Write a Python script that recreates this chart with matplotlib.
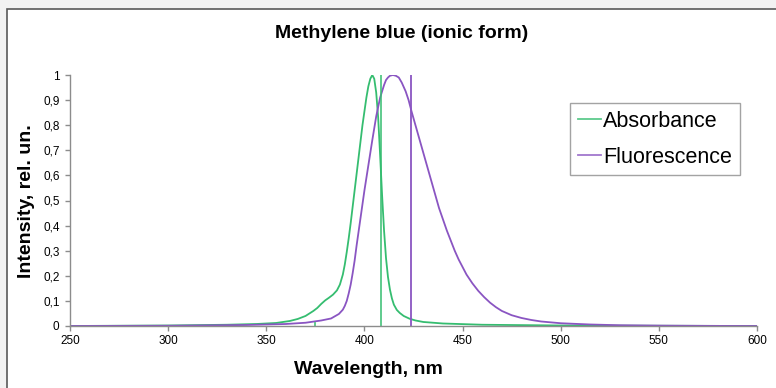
import matplotlib
matplotlib.use("Agg")
import matplotlib.pyplot as plt
from matplotlib.patches import Rectangle
from matplotlib.ticker import FixedLocator

plt.rcParams['font.family'] = ['Liberation Sans', 'DejaVu Sans']

# ---- data ----
abs_wl = [250, 300, 330, 345, 355, 362, 366, 370, 372, 374, 376, 378, 380, 382, 384, 386,
          387.5, 389, 390, 391, 392, 393, 394, 395, 397, 399, 401, 402, 403, 404, 405, 406,
          407, 408, 409, 410, 411, 412, 413, 414, 415, 416.5, 418, 420, 423, 426, 430, 440,
          460, 500, 600]
abs_val = [0.0, 0.002, 0.005, 0.008, 0.012, 0.02, 0.028, 0.04, 0.05, 0.06, 0.072, 0.088,
           0.102, 0.113, 0.125, 0.142, 0.165, 0.205, 0.245, 0.295, 0.35, 0.41, 0.475, 0.54,
           0.67, 0.80, 0.91, 0.955, 0.985, 1.0, 0.985, 0.93, 0.83, 0.68, 0.52, 0.38, 0.27,
           0.195, 0.145, 0.11, 0.085, 0.064, 0.052, 0.04, 0.029, 0.022, 0.016, 0.01, 0.005,
           0.002, 0.0]

fl_wl = [250, 300, 340, 360, 370, 378, 383, 387, 389, 390, 391, 392, 393, 394, 395, 396,
         398, 400, 402, 404, 406, 408, 410, 411, 412, 413, 414.5, 416, 417.5, 419, 421,
         422.5, 424, 426, 428, 430, 432, 434, 436, 438, 440, 442, 444, 446, 448, 450, 452,
         455, 458, 461, 464, 467, 470, 475, 480, 485, 490, 500, 515, 530, 550, 575, 600]
fl_val = [0.0, 0.001, 0.004, 0.008, 0.013, 0.022, 0.03, 0.048, 0.065, 0.08, 0.10, 0.13,
          0.165, 0.21, 0.26, 0.32, 0.43, 0.54, 0.64, 0.74, 0.835, 0.91, 0.96, 0.98, 0.99,
          0.997, 1.0, 0.997, 0.99, 0.97, 0.935, 0.9, 0.855, 0.80, 0.745, 0.69, 0.635, 0.58,
          0.525, 0.47, 0.425, 0.38, 0.34, 0.30, 0.265, 0.235, 0.205, 0.17, 0.14, 0.115,
          0.093, 0.075, 0.06, 0.043, 0.032, 0.024, 0.018, 0.011, 0.006, 0.003, 0.0015,
          0.0005, 0.0]

# vertical marker lines (wavelength, height)
abs_marks_wl = [375, 408.4]
abs_marks_h = [0.012, 1.0]
fl_marks_wl = [423.5]
fl_marks_h = [1.0]

x_ticks = [250, 300, 350, 400, 450, 500, 550, 600]
y_ticks = [0, 0.1, 0.2, 0.3, 0.4, 0.5, 0.6, 0.7, 0.8, 0.9, 1]
y_tick_labels = ['0', '0,1', '0,2', '0,3', '0,4', '0,5', '0,6', '0,7', '0,8', '0,9', '1']

green = '#35bd70'
purple = '#8a55c2'

fig = plt.figure(figsize=(7.76, 3.88), dpi=100, facecolor='#f2f2f2')
W, H = 776, 388
fig.patches.append(Rectangle((7 / W, -0.05), 1.0, (H - 9) / H + 0.05,
                             transform=fig.transFigure, facecolor='white',
                             edgecolor='#595959', linewidth=1.2, zorder=-10))

ax = fig.add_axes([70 / W, (H - 326) / H, (757 - 70) / W, (326 - 75) / H])
ax.set_zorder(5)
ax.set_facecolor('none')

ax.plot(abs_wl, abs_val, color=green, lw=1.3, label='Absorbance', solid_joinstyle='round')
ax.plot(fl_wl, fl_val, color=purple, lw=1.3, label='Fluorescence', solid_joinstyle='round')
for xw, hh in zip(abs_marks_wl, abs_marks_h):
    ax.plot([xw, xw], [0, hh], color=green, lw=1.3, alpha=0.85)
for xw, hh in zip(fl_marks_wl, fl_marks_h):
    ax.plot([xw, xw], [0, hh], color=purple, lw=1.3)

ax.set_xlim(250, 600)
ax.set_ylim(0, 1)
ax.xaxis.set_major_locator(FixedLocator(x_ticks))
ax.set_xticklabels([str(t) for t in x_ticks])
ax.yaxis.set_major_locator(FixedLocator(y_ticks))
ax.set_yticklabels(y_tick_labels)
for s in ['top', 'right']:
    ax.spines[s].set_visible(False)
for s in ['left', 'bottom']:
    ax.spines[s].set_color('#8c8c8c')
    ax.spines[s].set_linewidth(1.0)
ax.tick_params(axis='both', colors='#8c8c8c', labelcolor='#000000', labelsize=8.5,
               length=3.5, width=1.0, direction='out')
ax.tick_params(axis='x', pad=3)
ax.tick_params(axis='y', pad=4)

leg = ax.legend(loc='upper left', bbox_to_anchor=(570 / W, (H - 103) / H),
                bbox_transform=fig.transFigure, fontsize=15.5, frameon=True,
                fancybox=False, handlelength=1.1, handletextpad=0.1,
                labelspacing=0.7, borderpad=0.35, borderaxespad=0)
leg.get_frame().set_edgecolor('#8c8c8c')
leg.get_frame().set_linewidth(1.0)
for line in leg.get_lines():
    line.set_linewidth(1.3)
    line.set_alpha(0.8)

fig.text(402 / W, (H - 33) / H, 'Methylene blue (ionic form)', ha='center', va='center',
         fontsize=14, fontweight='bold')
fig.text(27 / W, (H - 201) / H, 'Intensity, rel. un.', ha='center', va='center',
         rotation=90, fontsize=14, fontweight='bold')
fig.text(368 / W, (H - 370) / H, 'Wavelength, nm', ha='center', va='center',
         fontsize=14, fontweight='bold')

fig.savefig('out.png', dpi=100, facecolor=fig.get_facecolor())
